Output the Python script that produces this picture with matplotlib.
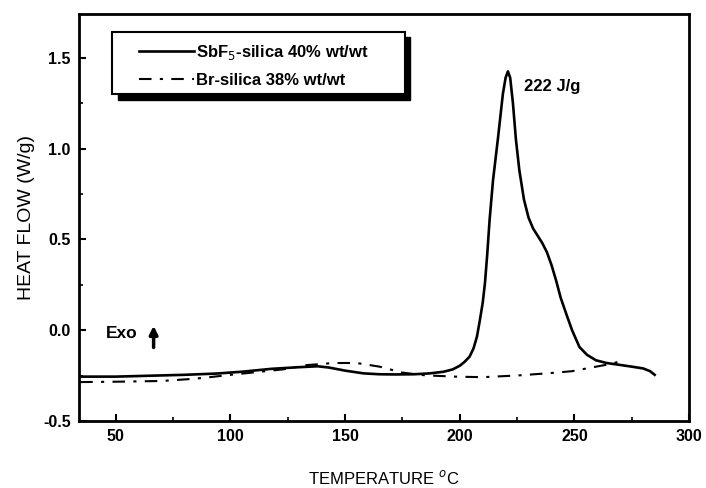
import matplotlib
matplotlib.use("Agg")
import matplotlib.pyplot as plt
from matplotlib.patches import Rectangle
from matplotlib.ticker import MultipleLocator

plt.rcParams["font.family"] = ["Liberation Sans", "DejaVu Sans"]
plt.rcParams["axes.unicode_minus"] = False

# SbF5-silica 40% wt/wt (solid)
temp_sbf = [34.5, 50, 65, 80, 94, 105, 118, 130, 138, 143, 150, 158, 165, 172,
            180, 187, 193, 197, 200, 202, 204.3, 206, 207.5, 208.7, 210, 211,
            212, 213, 214.5, 216.7, 218.8, 220, 221, 222, 223.2, 224.5, 226,
            228, 230, 232, 234, 236, 238, 240, 242, 244, 246.4, 249, 252.2,
            255.5, 259.4, 264, 269.6, 275, 280, 283, 285]
hf_sbf = [-0.255, -0.255, -0.25, -0.245, -0.238, -0.228, -0.212, -0.203, -0.198,
          -0.205, -0.222, -0.237, -0.242, -0.243, -0.242, -0.237, -0.228, -0.215,
          -0.195, -0.175, -0.145, -0.10, -0.035, 0.05, 0.15, 0.26, 0.42, 0.604,
          0.824, 1.06, 1.30, 1.39, 1.425, 1.39, 1.25, 1.05, 0.88, 0.72, 0.62,
          0.56, 0.52, 0.48, 0.43, 0.36, 0.275, 0.18, 0.092, 0.0, -0.092, -0.135,
          -0.165, -0.18, -0.19, -0.2, -0.21, -0.225, -0.245]

# Br-silica 38% wt/wt (dash-dot)
temp_br = [34.5, 50, 70, 84, 91, 100, 110, 123, 133, 140, 145, 155, 165, 175,
           185, 198, 210, 226, 239, 249, 259.5, 266, 270, 272]
hf_br = [-0.285, -0.283, -0.279, -0.267, -0.258, -0.245, -0.232, -0.215, -0.192,
         -0.185, -0.18, -0.18, -0.2, -0.233, -0.248, -0.255, -0.258, -0.248,
         -0.236, -0.225, -0.2, -0.185, -0.17, -0.16]

labels = ["SbF$_5$-silica 40% wt/wt", "Br-silica 38% wt/wt"]

fig = plt.figure(figsize=(7.06, 4.88), dpi=100)
ax = fig.add_axes([0.112, 0.137, 0.864, 0.834])

ax.plot(temp_sbf, hf_sbf, color="black", lw=1.9, label=labels[0])
ax.plot(temp_br, hf_br, color="black", lw=1.5, dashes=(6, 4, 1.5, 4),
        label=labels[1])

ax.set_xlim(34, 300)
ax.set_ylim(-0.5, 1.74)
ax.xaxis.set_major_locator(MultipleLocator(50))
ax.xaxis.set_minor_locator(MultipleLocator(25))
ax.yaxis.set_major_locator(MultipleLocator(0.5))
ax.yaxis.set_minor_locator(MultipleLocator(0.25))
ax.tick_params(which="both", direction="in", top=False, right=False)
ax.tick_params(which="major", length=5, width=1.5, labelsize=11.5, pad=6)
ax.tick_params(which="minor", length=3, width=1.2)
for lab in ax.get_xticklabels() + ax.get_yticklabels():
    lab.set_fontweight("bold")
for s in ax.spines.values():
    s.set_linewidth(2)

ax.set_xlabel("TEMPERATURE $^o$C", fontsize=12, labelpad=18)
ax.set_ylabel("HEAT FLOW (W/g)", fontsize=14, labelpad=6)

ax.text(228, 1.34, "222 J/g", fontsize=12, fontweight="bold", va="center")
ax.text(45.5, -0.015, "Exo", fontsize=12.5, fontweight="bold", va="center")
ax.annotate("", xy=(66.5, 0.04), xytext=(66.5, -0.11),
            arrowprops=dict(arrowstyle="-|>", color="black", lw=2.5,
                            mutation_scale=12))

# legend box with heavy drop shadow
box_x, box_y, box_w, box_h = 0.054, 0.803, 0.480, 0.153
ax.add_patch(Rectangle((box_x + 0.009, box_y - 0.013), box_w, box_h,
                       transform=ax.transAxes, facecolor="black",
                       edgecolor="black", zorder=4))
ax.add_patch(Rectangle((box_x, box_y), box_w, box_h, transform=ax.transAxes,
                       facecolor="white", edgecolor="black", lw=1.5, zorder=5))
leg = ax.legend(loc="upper left", bbox_to_anchor=(0.098, 0.93),
                frameon=False, prop={"size": 12, "weight": "bold"},
                handlelength=3.3, labelspacing=0.7, borderpad=0,
                borderaxespad=0, handletextpad=0.15)
leg.set_zorder(6)

fig.savefig("out.png", dpi=100)
